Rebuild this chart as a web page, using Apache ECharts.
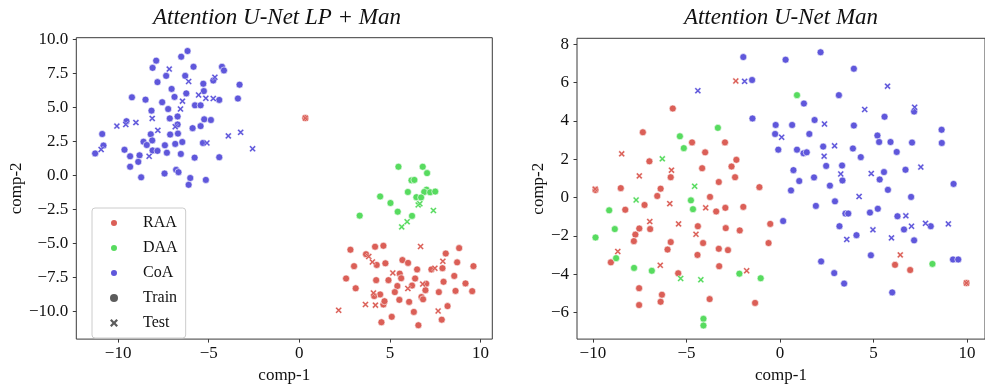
<!DOCTYPE html>
<html>
<head>
<meta charset="utf-8">
<script src="https://cdn.jsdelivr.net/npm/echarts@6/dist/echarts.min.js"></script>
<style>
html,body{margin:0;padding:0;background:#fff;overflow:hidden;}
#chart{width:985px;height:389px;}
</style>
</head>
<body>
<div id="chart"></div>
<script>
// ---------- data ----------
const classNames = ['RAA', 'DAA', 'CoA'];
const splitNames = ['Train', 'Test'];
const titles = ['Attention U-Net LP + Man', 'Attention U-Net Man'];

const lpXTicks = [-10, -5, 0, 5, 10];
const lpYTicks = [-10, -7.5, -5, -2.5, 0, 2.5, 5, 7.5, 10];
const manXTicks = [-10, -5, 0, 5, 10];
const manYTicks = [-6, -4, -2, 0, 2, 4, 6, 8];

// Left panel: Attention U-Net LP + Man
const lpRaaTrain = [[2.82,-5.47],[4.18,-5.25],[4.64,-5.18],[8.08,-5.75],[8.82,-5.35],[3.68,-5.80],[3.02,-6.68],[4.27,-6.59],[4.75,-6.47],[5.69,-6.23],[6.00,-6.44],[6.50,-6.92],[7.29,-6.92],[7.90,-6.83],[8.71,-6.40],[9.61,-6.68],[2.58,-7.59],[4.24,-7.71],[4.92,-7.71],[5.54,-7.23],[5.62,-7.57],[6.39,-7.59],[8.55,-7.40],[3.11,-8.31],[5.41,-8.14],[6.22,-8.11],[7.00,-7.97],[7.96,-7.83],[9.17,-7.95],[4.46,-8.76],[4.13,-8.88],[5.27,-8.59],[6.96,-8.45],[7.70,-8.59],[8.62,-8.50],[9.54,-8.52],[5.52,-9.16],[6.06,-9.31],[6.74,-8.95],[6.83,-9.12],[4.64,-9.50],[4.70,-9.26],[8.18,-9.62],[6.32,-10.05],[7.86,-10.62],[5.10,-10.41],[4.53,-10.81],[6.57,-11.03],[0.33,4.22]];
const lpRaaTest = [[0.33,4.22],[2.17,-9.93],[6.69,-5.23],[7.92,-6.32],[3.83,-5.97],[4.03,-6.37],[5.16,-7.18],[7.48,-6.83],[5.99,-8.33],[6.81,-8.00],[4.09,-8.66],[3.65,-9.50],[4.20,-9.55],[7.66,-9.98]];
const lpDaaTrain = [[5.47,0.64],[6.81,0.64],[7.05,0.17],[6.19,-0.36],[6.35,-0.33],[7.02,-1.05],[6.89,-1.22],[7.22,-1.24],[7.50,-1.19],[5.99,-1.22],[4.46,-1.55],[6.46,-1.60],[6.72,-1.62],[5.03,-2.03],[5.43,-2.67],[6.22,-2.98],[3.33,-2.96]];
const lpDaaTest = [[6.56,-2.17],[6.65,-2.08],[7.40,-2.58],[5.95,-3.41],[5.65,-3.79]];
const lpCoaTrain = [[-6.17,9.16],[-6.52,8.74],[-7.90,8.45],[-8.10,7.92],[-5.84,8.00],[-4.27,8.00],[-4.16,7.73],[-7.35,7.33],[-6.30,7.33],[-7.83,6.87],[-5.30,6.75],[-3.30,6.68],[-7.05,6.37],[-5.27,6.21],[-6.24,6.04],[-6.89,5.78],[-9.24,5.75],[-8.49,5.58],[-7.57,5.39],[-4.42,5.56],[-3.39,5.66],[-5.76,5.16],[-5.45,5.16],[-7.24,4.89],[-8.16,4.77],[-7.15,4.20],[-6.72,4.34],[-9.54,3.99],[-5.25,4.13],[-4.88,4.08],[-6.72,3.75],[-5.89,3.48],[-5.45,3.63],[-10.88,3.05],[-8.20,3.03],[-7.13,3.01],[-6.70,3.08],[-8.60,2.48],[-8.42,2.24],[-8.12,2.58],[-7.42,2.22],[-6.85,2.32],[-6.46,2.46],[-10.81,2.20],[-11.27,1.62],[-9.65,1.89],[-9.34,1.41],[-8.82,1.48],[-8.10,1.84],[-7.83,1.81],[-7.31,1.67],[-6.54,1.58],[-5.78,1.31],[-4.42,1.34],[-8.89,1.00],[-9.34,0.64],[-6.80,0.41],[-6.67,0.24],[-7.44,0.14],[-8.73,-0.14],[-6.02,-0.19],[-5.16,-0.33],[-6.11,-0.69],[-5.32,2.39],[-4.75,6.99]];
const lpCoaTest = [[-7.18,7.83],[-6.11,6.92],[-4.66,7.23],[-5.56,5.92],[-5.16,5.68],[-4.75,5.66],[-6.45,5.47],[-6.56,4.89],[-8.12,4.20],[-10.07,3.63],[-9.58,3.75],[-9.02,3.89],[-7.81,3.32],[-6.85,3.58],[-3.92,2.91],[-3.24,3.17],[-2.58,1.96],[-5.10,2.39],[-8.29,1.41],[-10.94,1.91]];

// Right panel: Attention U-Net Man
const manRaaTrain = [[-5.73,4.65],[-7.33,3.41],[-4.70,2.88],[-2.94,2.88],[-4.00,2.36],[-6.98,1.89],[-2.33,1.97],[-4.16,1.53],[-2.59,1.62],[-5.84,1.06],[-2.40,1.06],[-8.51,0.49],[-6.38,0.46],[-6.56,0.08],[-3.27,0.81],[-1.10,0.54],[-3.74,0.03],[-7.24,-0.39],[-8.27,-0.64],[-3.41,-0.73],[-2.92,-0.54],[-1.96,-0.49],[-7.52,-1.62],[-6.94,-1.65],[-7.73,-1.94],[-7.81,-2.28],[-4.39,-1.50],[-2.90,-1.60],[-2.15,-1.72],[-0.52,-1.38],[-0.61,-2.38],[-5.84,-2.33],[-6.01,-2.72],[-4.11,-2.38],[-3.27,-2.68],[-2.78,-2.75],[-4.41,-3.00],[-9.04,-3.39],[-5.44,-3.96],[-3.25,-3.59],[-7.53,-4.74],[-6.31,-5.08],[-6.38,-5.45],[-7.53,-5.62],[-3.76,-5.31],[-1.33,-5.51],[6.15,-3.52],[6.96,-3.79],[-9.86,0.39],[9.97,-4.47]];
const manRaaTest = [[-2.36,6.09],[-8.46,2.28],[-7.52,1.13],[-5.80,1.43],[-9.88,0.44],[-5.89,-0.32],[-3.97,-0.54],[-6.96,-1.26],[-5.42,-1.38],[-4.49,-1.92],[-8.67,-2.82],[-6.40,-3.54],[-1.78,-3.83],[6.43,-3.00],[9.97,-4.47]];
const manDaaTrain = [[-5.35,3.20],[-5.14,2.58],[-3.32,3.64],[-4.76,-0.15],[-4.65,-0.61],[-9.13,-0.67],[-8.83,-1.65],[-9.86,-2.09],[-8.76,-3.17],[-7.80,-3.68],[-6.85,-3.83],[-2.17,-3.98],[-1.03,-4.22],[-4.09,-6.34],[-4.09,-6.69],[0.91,5.35],[8.15,-3.47]];
const manDaaTest = [[-6.29,2.02],[-4.56,0.59],[-7.69,-0.13],[-5.31,-4.23],[-4.23,-4.30]];
const manCoaTrain = [[-1.96,7.34],[-1.49,6.14],[-1.47,4.13],[0.30,7.20],[2.17,7.59],[3.95,6.73],[3.15,5.35],[1.28,4.91],[1.85,4.05],[-0.23,3.79],[0.65,3.79],[3.95,3.76],[5.59,4.22],[7.17,4.49],[8.64,3.54],[-0.26,3.32],[1.57,3.32],[5.21,3.24],[5.30,2.90],[5.91,2.90],[7.06,2.87],[8.65,2.85],[-0.09,2.50],[0.91,2.50],[1.26,2.31],[1.43,2.36],[2.31,2.66],[3.90,2.56],[4.32,2.11],[6.24,2.38],[0.72,1.43],[2.47,1.65],[3.32,1.67],[5.56,1.33],[6.71,1.45],[1.03,0.86],[1.82,1.05],[3.34,0.89],[2.67,0.62],[5.33,0.94],[0.59,0.37],[5.77,0.40],[9.28,0.71],[2.94,-0.20],[7.01,0.03],[1.92,-0.44],[0.17,-1.23],[3.18,-1.50],[3.50,-0.84],[3.65,-0.84],[4.81,-0.79],[5.23,-0.59],[6.28,-0.98],[8.06,-1.50],[6.63,-1.67],[7.17,-2.24],[4.09,-1.97],[4.86,-3.02],[2.20,-3.34],[2.90,-3.95],[3.43,-4.50],[6.00,-4.96],[9.25,-3.24],[9.53,-3.24]];
const manCoaTest = [[-4.39,5.58],[-1.89,6.07],[5.75,5.82],[4.53,4.60],[7.20,4.72],[2.38,3.84],[0.09,3.15],[2.92,2.70],[2.36,2.16],[3.25,1.23],[4.88,1.25],[7.53,1.59],[4.23,0.05],[6.73,-0.96],[7.03,-1.50],[7.78,-1.35],[9.00,-1.38],[4.97,-1.69],[3.57,-2.19],[5.96,-2.11]];

// ---------- styling ----------
const colors = {RAA: '#db5f57', DAA: '#57db5f', CoA: '#5f57db'};
const darkColor = '#333333';
const X_PATH = 'path://M2,0L5,3L8,0L10,2L7,5L10,8L8,10L5,7L2,10L0,8L3,5L0,2Z';
const FONT = '"Liberation Serif", "DejaVu Serif", serif';

const panels = [
  {data: {RAA: [lpRaaTrain, lpRaaTest], DAA: [lpDaaTrain, lpDaaTest], CoA: [lpCoaTrain, lpCoaTest]},
   xr: [-12.31, 10.65], yr: [-12.05, 10.14], xt: lpXTicks, yt: lpYTicks,
   grid: {left: 76.3, top: 37.7, width: 416, height: 310}, yfmt: v => (v < 0 ? '\u2212' : '') + Math.abs(v).toFixed(1),
   nameGapY: 50, titleX: 277},
  {data: {RAA: [manRaaTrain, manRaaTest], DAA: [manDaaTrain, manDaaTest], CoA: [manCoaTrain, manCoaTest]},
   xr: [-10.85, 10.96], yr: [-7.40, 8.32], xt: manXTicks, yt: manYTicks,
   grid: {left: 577, top: 38.3, width: 416, height: 310.7}, yfmt: v => (v < 0 ? '\u2212' : '') + Math.abs(v),
   nameGapY: 30, titleX: 781}
];

const xfmt = v => (v < 0 ? '\u2212' : '') + Math.abs(v);

const grids = [], xAxes = [], yAxes = [], series = [], graphics = [];
panels.forEach((p, i) => {
  grids.push(Object.assign({show: true, borderColor: '#3a3a3a', borderWidth: 1, backgroundColor: '#fff'}, p.grid));
  const common = {
    axisLine: {show: false, onZero: false},
    splitLine: {show: false},
    nameTextStyle: {fontFamily: FONT, fontSize: 17, color: '#111'}
  };
  const tick = {show: true, length: 3.5, lineStyle: {color: '#3a3a3a', width: 1}};
  xAxes.push(Object.assign({}, common, {
    type: 'value', gridIndex: i, min: p.xr[0], max: p.xr[1], position: 'bottom',
    name: 'comp-1', nameLocation: 'middle', nameGap: 25,
    axisTick: Object.assign({}, tick, {customValues: p.xt}),
    axisLabel: {customValues: p.xt, formatter: xfmt, fontFamily: FONT, fontSize: 17, color: '#111', margin: 6}
  }));
  yAxes.push(Object.assign({}, common, {
    type: 'value', gridIndex: i, min: p.yr[0], max: p.yr[1], position: 'left',
    name: 'comp-2', nameLocation: 'middle', nameGap: p.nameGapY, nameRotate: 90,
    axisTick: Object.assign({}, tick, {customValues: p.yt}),
    axisLabel: {customValues: p.yt, formatter: p.yfmt, fontFamily: FONT, fontSize: 17, color: '#111', margin: 8}
  }));
  classNames.forEach(c => {
    [0, 1].forEach(s => {
      series.push({
        type: 'scatter', name: c, xAxisIndex: i, yAxisIndex: i,
        data: p.data[c][s],
        symbol: s === 0 ? 'circle' : X_PATH,
        symbolSize: s === 0 ? 7 : 6.5,
        z: s === 0 ? 2 : 3,
        itemStyle: {color: colors[c], borderColor: '#fff', borderWidth: s === 0 ? 0.6 : 0.4, opacity: 1},
        emphasis: {disabled: true}
      });
    });
  });
  graphics.push({
    type: 'text', x: p.titleX, y: 18,
    style: {text: titles[i], font: 'italic 23px ' + FONT, fill: '#111', textAlign: 'center', textVerticalAlign: 'middle'}
  });
});

// dummy series for Train / Test legend entries
series.push({type: 'scatter', name: 'Train', xAxisIndex: 0, yAxisIndex: 0, data: [], symbol: 'circle', symbolSize: 8, itemStyle: {color: darkColor}});
series.push({type: 'scatter', name: 'Test', xAxisIndex: 0, yAxisIndex: 0, data: [], symbol: X_PATH, symbolSize: 8, itemStyle: {color: darkColor}});

const chart = echarts.init(document.getElementById('chart'), null, {renderer: 'canvas'});
chart.setOption({
  animation: false,
  backgroundColor: '#fff',
  grid: grids,
  xAxis: xAxes,
  yAxis: yAxes,
  series: series,
  legend: {
    data: classNames.concat(splitNames),
    orient: 'vertical',
    left: 92, top: 208,
    padding: [7, 8, 7, 17],
    itemWidth: 30, itemHeight: 8, itemGap: 9,
    selectedMode: false,
    backgroundColor: 'rgba(255,255,255,0.8)',
    borderColor: '#cccccc', borderWidth: 1, borderRadius: 3,
    formatter: name => '{t|' + name + '}',
    textStyle: {
      fontFamily: FONT, fontSize: 16, color: '#111', lineHeight: 14,
      rich: {t: {fontFamily: FONT, fontSize: 16, color: '#111', lineHeight: 14, padding: [0, 0, 0, 9]}}
    }
  },
  graphic: graphics
});
</script>
</body>
</html>
